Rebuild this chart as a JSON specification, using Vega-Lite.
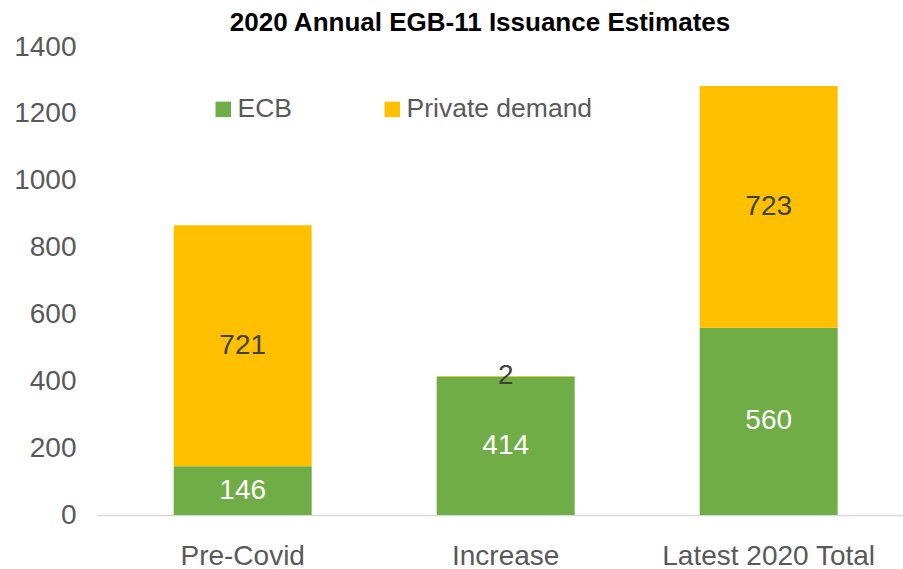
{
  "$schema": "https://vega.github.io/schema/vega-lite/v6.json",
  "width": 806,
  "height": 468,
  "autosize": {"type": "none"},
  "padding": {"left": 97, "top": 47, "right": 0, "bottom": 54},
  "background": "white",
  "title": {
    "text": "2020 Annual EGB-11 Issuance Estimates",
    "font": "Liberation Sans",
    "fontWeight": "bold",
    "fontSize": 26,
    "color": "#000000",
    "anchor": "middle",
    "frame": "group",
    "dx": -20,
    "dy": 7
  },
  "data": {
    "values": [
      {"cat": "Pre-Covid", "series": "ECB", "value": 146},
      {"cat": "Pre-Covid", "series": "Private demand", "value": 721},
      {"cat": "Increase", "series": "ECB", "value": 414},
      {"cat": "Increase", "series": "Private demand", "value": 2},
      {"cat": "Latest 2020 Total", "series": "ECB", "value": 560},
      {"cat": "Latest 2020 Total", "series": "Private demand", "value": 723}
    ]
  },
  "layer": [
    {
      "mark": {"type": "bar"},
      "encoding": {
        "x": {
          "field": "cat",
          "type": "nominal",
          "sort": ["Pre-Covid", "Increase", "Latest 2020 Total"],
          "scale": {"paddingInner": 0.4753, "paddingOuter": 0.27, "align": 0.54},
          "axis": {"title": null, "labelAngle": 0, "ticks": false, "domain": true, "domainColor": "#D9D9D9", "domainWidth": 1.5, "labelPadding": 27, "labelLimit": 0}
        },
        "y": {
          "field": "value",
          "type": "quantitative",
          "stack": "zero",
          "scale": {"domain": [0, 1400], "nice": false, "zero": true},
          "axis": {"title": null, "values": [0, 200, 400, 600, 800, 1000, 1200, 1400], "format": "d", "grid": false, "domain": false, "ticks": false, "labelPadding": 21}
        },
        "order": {"field": "series", "type": "nominal", "sort": "ascending"},
        "color": {
          "field": "series",
          "type": "nominal",
          "scale": {"domain": ["ECB", "Private demand"], "range": ["#70AD47", "#FFC000"]},
          "legend": {
            "title": null,
            "orient": "none",
            "legendX": 113,
            "legendY": 49,
            "direction": "horizontal",
            "symbolType": "square",
            "symbolSize": 240,
            "symbolStrokeWidth": 0,
            "labelOffset": 1,
            "columnPadding": 87,
            "labelFont": "Liberation Sans",
            "labelFontSize": 26.5,
            "labelLimit": 0,
            "labelColor": "#595959",
            "padding": 0
          }
        }
      }
    },
    {
      "transform": [
        {"stack": "value", "groupby": ["cat"], "sort": [{"field": "series", "order": "ascending"}], "as": ["y0", "y1"]},
        {"fold": ["y0", "y1"], "as": ["k", "pos"]}
      ],
      "mark": {"type": "text", "font": "Liberation Sans", "fontSize": 28, "baseline": "middle", "align": "center"},
      "encoding": {
        "x": {"field": "cat", "type": "nominal", "sort": ["Pre-Covid", "Increase", "Latest 2020 Total"]},
        "y": {"aggregate": "mean", "field": "pos", "type": "quantitative"},
        "detail": {"field": "series"},
        "text": {"field": "value", "type": "quantitative"},
        "color": {"condition": {"test": "datum.series === 'ECB'", "value": "#FFFFFF"}, "value": "#404040"}
      }
    }
  ],
  "config": {
    "view": {"stroke": null},
    "axis": {"labelFont": "Liberation Sans", "labelFontSize": 28, "labelColor": "#595959"}
  }
}
